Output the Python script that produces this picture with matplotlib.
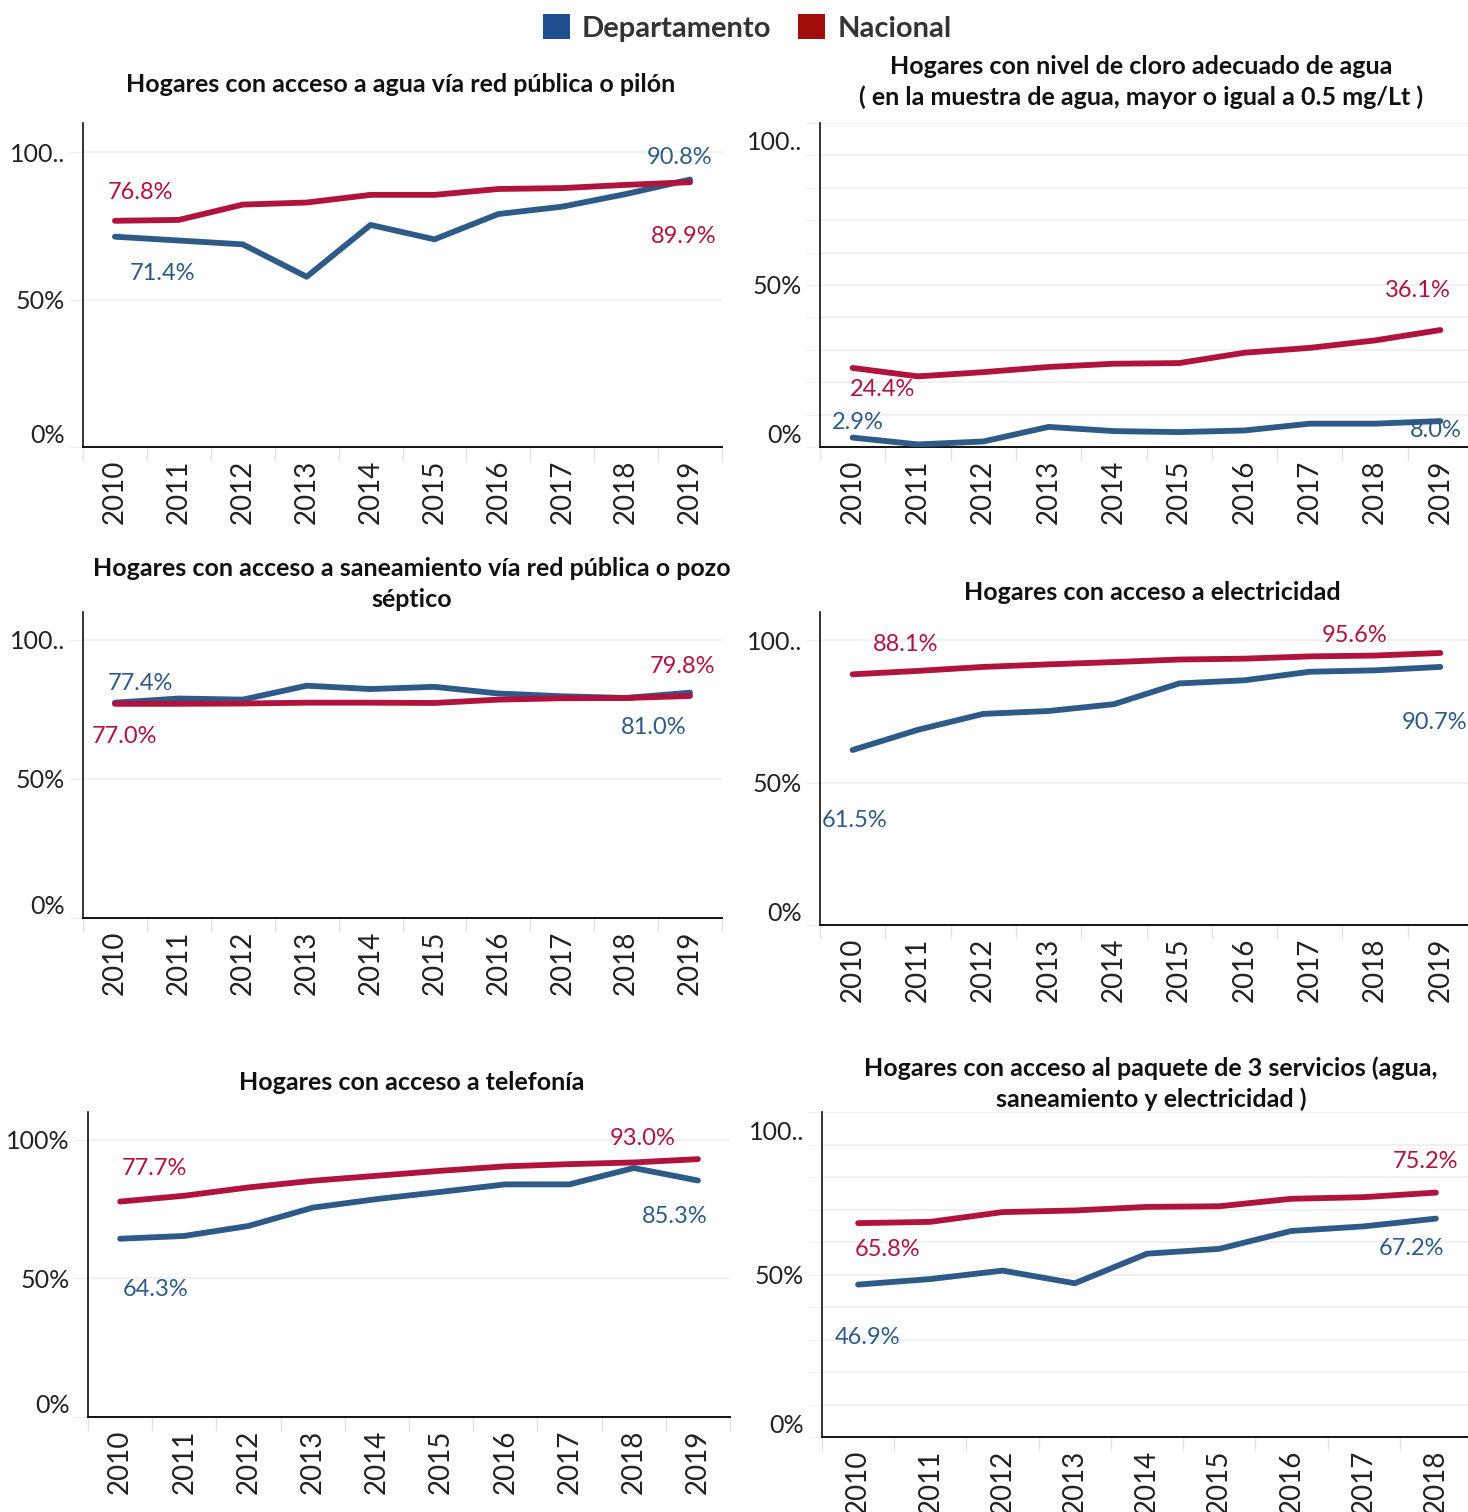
import matplotlib
matplotlib.use("Agg")
import matplotlib.pyplot as plt
from matplotlib.patches import Patch
from matplotlib.ticker import FixedLocator, MultipleLocator
from matplotlib.transforms import ScaledTranslation

W, H = 1468, 1512

years = list(range(2010, 2020))
years_paquete = list(range(2010, 2019))

agua_dep = [71.4, 70.1, 68.8, 57.8, 75.4, 70.5, 79.1, 81.6, 85.9, 90.8]
agua_nac = [76.8, 77.1, 82.3, 83.0, 85.6, 85.6, 87.6, 87.9, 89.0, 89.9]

cloro_dep = [2.9, 0.8, 1.7, 6.2, 4.9, 4.6, 5.1, 7.2, 7.2, 8.0]
cloro_nac = [24.4, 21.8, 23.1, 24.7, 25.7, 25.9, 29.1, 30.6, 32.9, 36.1]

saneam_dep = [77.4, 78.9, 78.5, 83.5, 82.3, 83.1, 80.7, 79.7, 79.1, 81.0]
saneam_nac = [77.0, 77.0, 77.1, 77.4, 77.4, 77.3, 78.5, 79.0, 79.1, 79.8]

elec_dep = [61.5, 68.6, 74.2, 75.2, 77.6, 84.9, 86.0, 89.0, 89.5, 90.7]
elec_nac = [88.1, 89.3, 90.7, 91.6, 92.4, 93.3, 93.6, 94.4, 94.7, 95.6]

tel_dep = [64.3, 65.3, 68.9, 75.5, 78.6, 81.2, 83.9, 83.9, 89.8, 85.3]
tel_nac = [77.7, 79.8, 82.8, 85.2, 87.0, 88.8, 90.4, 91.2, 91.8, 93.0]

paq_dep = [46.9, 48.6, 51.2, 47.3, 56.4, 57.9, 63.4, 64.8, 67.2]
paq_nac = [65.8, 66.2, 69.2, 69.7, 70.8, 71.0, 73.3, 73.8, 75.2]

series_names = ["Departamento", "Nacional"]

BLUE = "#2e5a88"
RED = "#b0133d"
LEG_BLUE = "#1f4e8f"
LEG_RED = "#a10d0b"

plt.rcParams["font.family"] = ["Lato", "DejaVu Sans"]


def px_box(x0, y0, x1, y1):
    return [x0 / W, 1 - y1 / H, (x1 - x0) / W, (y1 - y0) / H]


# label offsets are in pixels from the first / last point of each series
panels = [
    dict(box=(83, 123, 722, 447),
         title="Hogares con acceso a agua vía red pública o pilón", tpos=(401, 84),
         x=years, dep=agua_dep, nac=agua_nac, ytop=110, grid10=False,
         ylabels=["0%", "50%", "100.."],
         off=dict(nac0=(26, 28), dep0=(48, -37), dep1=(-10, 22), nac1=(-6, -54))),
    dict(box=(820, 123, 1473, 447),
         title="Hogares con nivel de cloro adecuado de agua\n( en la muestra de agua, mayor o igual a 0.5 mg/Lt )",
         tpos=(1141, 82),
         x=years, dep=cloro_dep, nac=cloro_nac, ytop=100, grid10=True,
         ylabels=["0%", "50%", "100.."],
         off=dict(nac0=(30, -22), dep0=(5, 15), dep1=(-5, -9), nac1=(-22, 40))),
    dict(box=(83, 612, 722, 918),
         title="Hogares con acceso a saneamiento vía red pública o pozo\nséptico", tpos=(412, 584),
         x=years, dep=saneam_dep, nac=saneam_nac, ytop=110, grid10=False,
         ylabels=["0%", "50%", "100.."],
         off=dict(nac0=(10, -33), dep0=(25, 19), dep1=(-36, -35), nac1=(-8, 30))),
    dict(box=(820, 612, 1473, 925),
         title="Hogares con acceso a electricidad", tpos=(1152, 592),
         x=years, dep=elec_dep, nac=elec_nac, ytop=110, grid10=False,
         ylabels=["0%", "50%", "100.."],
         off=dict(nac0=(53, 30), dep0=(2, -70), dep1=(-6, -56), nac1=(-86, 17))),
    dict(box=(88, 1112, 730, 1417),
         title="Hogares con acceso a telefonía", tpos=(412, 1083),
         x=years, dep=tel_dep, nac=tel_nac, ytop=110, grid10=False,
         ylabels=["0%", "50%", "100%"],
         off=dict(nac0=(34, 33), dep0=(36, -51), dep1=(-23, -36), nac1=(-55, 21))),
    dict(box=(822, 1112, 1472, 1437),
         title="Hogares con acceso al paquete de 3 servicios (agua,\nsaneamiento y electricidad )",
         tpos=(1151, 1084),
         x=years_paquete, dep=paq_dep, nac=paq_nac, ytop=100, grid10=True,
         ylabels=["0%", "50%", "100.."],
         off=dict(nac0=(29, -26), dep0=(9, -53), dep1=(-24, -30), nac1=(-10, 31))),
]

fig = plt.figure(figsize=(W / 100, H / 100), dpi=100)

for p in panels:
    ax = fig.add_axes(px_box(*p["box"]))
    xs = p["x"]
    ax.plot(xs, p["dep"], color=BLUE, lw=4.2, solid_capstyle="round", zorder=3)
    ax.plot(xs, p["nac"], color=RED, lw=4.2, solid_capstyle="round", zorder=4)

    ax.set_xlim(xs[0] - 0.5, xs[-1] + 0.5)
    ax.set_ylim(0, p["ytop"])

    for sp in ["top", "right"]:
        ax.spines[sp].set_visible(False)
    ax.spines["left"].set_color("#111111")
    ax.spines["bottom"].set_color("#111111")
    ax.spines["left"].set_linewidth(1.2)
    ax.spines["bottom"].set_linewidth(1.4)

    ax.set_xticks(xs)
    ax.set_xticklabels([str(y) for y in xs], rotation=90, fontsize=20,
                       color="#222222", va="top")
    ax.xaxis.set_minor_locator(FixedLocator([x + 0.5 for x in [xs[0] - 1] + xs]))
    ax.tick_params(axis="x", which="major", length=0, pad=9)
    ax.tick_params(axis="x", which="minor", length=10, color="#e3e3e3", width=1)

    ax.set_yticks([0, 50, 100])
    ax.set_yticklabels(p["ylabels"], fontsize=18, color="#222222")
    if p["grid10"]:
        ax.yaxis.set_minor_locator(MultipleLocator(10))
    ax.tick_params(axis="y", which="both", length=10, color="#ececec", pad=3)
    ax.grid(axis="y", which="both", color="#efefef", lw=1.2)
    ax.set_axisbelow(True)
    ticks = ax.yaxis.get_major_ticks()
    ticks[0].label1.set_va("bottom")
    if p["ytop"] == 100:
        lab = ticks[2].label1
        lab.set_transform(lab.get_transform() + ScaledTranslation(0, -18 / 100, fig.dpi_scale_trans))

    o = p["off"]
    for key, vals, col, idx in [("dep0", p["dep"], BLUE, 0), ("dep1", p["dep"], BLUE, -1),
                                ("nac0", p["nac"], RED, 0), ("nac1", p["nac"], RED, -1)]:
        ax.annotate(f"{vals[idx]:.1f}%", xy=(xs[idx], vals[idx]), xytext=o[key],
                    textcoords="offset pixels", ha="center", va="center",
                    fontsize=17, color=col, annotation_clip=False, zorder=5)

    fig.text(p["tpos"][0] / W, 1 - p["tpos"][1] / H, p["title"], ha="center", va="center",
             fontsize=18, fontweight="bold", color="#111111", linespacing=1.4)

handles = [Patch(facecolor=LEG_BLUE, edgecolor="none"), Patch(facecolor=LEG_RED, edgecolor="none")]
leg = fig.legend(handles, series_names, loc="center", bbox_to_anchor=(747 / W, 1 - 28 / H),
                 ncol=2, frameon=False, fontsize=21, handlelength=0.95, handleheight=0.95,
                 handletextpad=0.4, columnspacing=0.9)
for t in leg.get_texts():
    t.set_fontweight("bold")
    t.set_color("#333333")

fig.savefig("out.png", dpi=100)
